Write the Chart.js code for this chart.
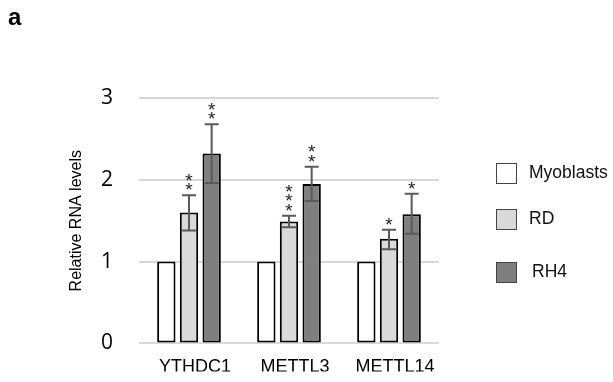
<!DOCTYPE html>
<html>
<head>
<meta charset="utf-8">
<script src="https://cdn.jsdelivr.net/npm/chart.js@4.4.1/dist/chart.umd.min.js"></script>
<style>
  html, body { margin: 0; padding: 0; background: #fff; overflow: hidden; }
  #wrap { width: 613px; height: 382px; position: relative; }
  canvas { display: block; }
</style>
</head>
<body>
<div id="wrap"><canvas id="c" width="613" height="382"></canvas></div>
<script>
const categories = ["YTHDC1", "METTL3", "METTL14"];
const seriesNames = ["Myoblasts", "RD", "RH4"];
const myoblasts = [1, 1, 1];
const rd = [1.60, 1.49, 1.28];
const rh4 = [2.32, 1.95, 1.58];
const rdErrLow = [1.38, 1.42, 1.15];
const rdErrHigh = [1.81, 1.56, 1.39];
const rh4ErrLow = [1.96, 1.74, 1.34];
const rh4ErrHigh = [2.68, 2.16, 1.83];
const rdStars = ["**", "***", "*"];
const rh4Stars = ["**", "**", "*"];
const yTicks = [0, 1, 2, 3];

const fills = ["#ffffff", "#d9d9d9", "#7f7f7f"];

const errorBarPlugin = {
  id: 'errorBars',
  afterDatasetsDraw(chart) {
    const ctx = chart.ctx;
    const y = chart.scales.y;
    const sets = [
      { idx: 1, lo: rdErrLow, hi: rdErrHigh, stars: rdStars },
      { idx: 2, lo: rh4ErrLow, hi: rh4ErrHigh, stars: rh4Stars }
    ];
    ctx.save();
    sets.forEach(s => {
      const meta = chart.getDatasetMeta(s.idx);
      meta.data.forEach((bar, i) => {
        const x = bar.x;
        const yl = y.getPixelForValue(s.lo[i]);
        const yh = y.getPixelForValue(s.hi[i]);
        ctx.strokeStyle = '#5a5a5a';
        ctx.lineWidth = 2;
        ctx.beginPath();
        ctx.moveTo(x, yl); ctx.lineTo(x, yh);
        ctx.moveTo(x - 7, yl); ctx.lineTo(x + 7, yl);
        ctx.moveTo(x - 7, yh); ctx.lineTo(x + 7, yh);
        ctx.stroke();
        ctx.fillStyle = '#222';
        ctx.font = '19px "Liberation Sans", Arial, sans-serif';
        ctx.textAlign = 'center';
        ctx.textBaseline = 'alphabetic';
        const n = s.stars[i].length;
        for (let k = 0; k < n; k++) {
          const cy = yh - 9.5 - k * 9.3;
          ctx.fillText('*', x, cy + 10.5);
        }
      });
    });
    ctx.restore();
  }
};

const legendPlugin = {
  id: 'customLegend',
  afterDraw(chart) {
    const ctx = chart.ctx;
    const ys = [173, 219, 272];
    ctx.save();
    chart.data.datasets.forEach((ds, i) => {
      const cy = ys[i];
      ctx.fillStyle = ds.backgroundColor;
      ctx.fillRect(496.5, cy - 10, 20, 20);
      ctx.strokeStyle = '#444';
      ctx.lineWidth = 1;
      ctx.strokeRect(496.5, cy - 9.5, 20, 20);
      ctx.fillStyle = '#111';
      ctx.font = '17.5px "Liberation Sans", Arial, sans-serif';
      ctx.textAlign = 'left';
      ctx.textBaseline = 'middle';
      ctx.fillText(ds.label, i === 2 ? 532 : 529, cy);
    });
    ctx.fillStyle = '#000';
    ctx.font = 'bold 24px "Liberation Sans", Arial, sans-serif';
    ctx.textAlign = 'left';
    ctx.textBaseline = 'alphabetic';
    ctx.fillText('a', 8, 25);
    ctx.restore();
  }
};

const values = [myoblasts, rd, rh4];

new Chart(document.getElementById('c'), {
  type: 'bar',
  data: {
    labels: categories,
    datasets: seriesNames.map((name, i) => ({
      label: name,
      data: values[i],
      backgroundColor: fills[i],
      borderColor: '#000',
      borderWidth: 2,
      borderSkipped: false,
      categoryPercentage: 0.68,
      barPercentage: 0.81
    }))
  },
  options: {
    responsive: false,
    animation: false,
    devicePixelRatio: 1,
    layout: { padding: { left: 63, right: 174, top: 98, bottom: 9 } },
    plugins: { legend: { display: false }, tooltip: { enabled: false } },
    scales: {
      x: {
        grid: { display: false, drawTicks: false },
        border: { display: false },
        ticks: { color: '#000', font: { family: '"Liberation Sans", Arial, sans-serif', size: 18 }, padding: 13, labelOffset: 6 },
        afterFit(scale) { scale.height = 28; }
      },
      y: {
        min: 0, max: 3,
        afterBuildTicks(scale) { scale.ticks = yTicks.map(v => ({ value: v })); },
        grid: { color: '#d9d9d9', lineWidth: 2, drawTicks: false },
        border: { display: false },
        ticks: { color: '#000', font: { family: '"Open Sans", sans-serif', size: 21 }, padding: 26 },
        title: { display: true, text: 'Relative RNA levels', color: '#000', font: { family: '"Liberation Sans", Arial, sans-serif', size: 16 } },
        afterFit(scale) { scale.width = 76; }
      }
    }
  },
  plugins: [errorBarPlugin, legendPlugin]
});
</script>
</body>
</html>
